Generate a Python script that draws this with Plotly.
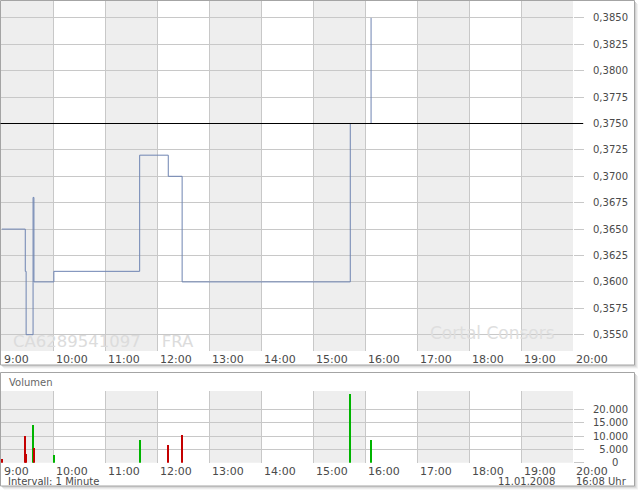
import plotly.graph_objects as go

DATE = "2008-01-11"
W, H = 640, 492

# ---------------- data ----------------
hours = [9, 10, 11, 12, 13, 14, 15, 16, 17, 18, 19, 20]
hour_labels = ["9:00", "10:00", "11:00", "12:00", "13:00", "14:00", "15:00",
               "16:00", "17:00", "18:00", "19:00", "20:00"]
shaded_hours = [9, 11, 13, 15, 17, 19]

price_times = ["09:01", "09:28", "09:29", "09:37", "09:38", "10:01",
               "11:40", "12:13", "12:29", "15:43", "16:07"]
prices = [0.3650, 0.3610, 0.3550, 0.3680, 0.3600, 0.3610,
          0.3720, 0.3700, 0.3600, 0.3750, 0.3850]
prev_close = 0.3750

vol_times = ["09:01", "09:28", "09:29", "09:37", "09:38", "10:01",
             "11:40", "12:13", "12:29", "15:43", "16:07"]
volumes = [1400, 10000, 3300, 14200, 5400, 2900, 8500, 6600, 10400, 25800, 8500]
vol_dir = ["down", "down", "down", "up", "down", "up", "up", "down", "down", "up", "up"]

price_ticks = [0.3550, 0.3575, 0.3600, 0.3625, 0.3650, 0.3675, 0.3700,
               0.3725, 0.3750, 0.3775, 0.3800, 0.3825, 0.3850]
price_tick_labels = ["0,3550", "0,3575", "0,3600", "0,3625", "0,3650", "0,3675",
                     "0,3700", "0,3725", "0,3750", "0,3775", "0,3800", "0,3825", "0,3850"]
vol_ticks = [0, 5000, 10000, 15000, 20000]
vol_tick_labels = ["\u2007\u2007\u20070", "\u20075.000", "10.000", "15.000", "20.000"]

isin_text = "CA6289541097\u00a0\u00a0\u00a0\u00a0FRA"
brand_text = "Cortal Consors"
volume_title = "Volumen"
interval_text = "Intervall: 1 Minute"
date_text = "11.01.2008"
time_text = "16:08 Uhr"

# ---------------- styles ----------------
FONT = "DejaVu Sans, Verdana, sans-serif"
TXT = "#4a4a4a"
GRID = "#c8c8c8"
BAND = "#eeeeee"
LINE = "#6e84b2"
UP = "#00b400"
DOWN = "#c40000"


def dt(hm):
    return f"{DATE} {hm}"


def px_x(p):
    return p / W


def px_y(p):
    return 1 - p / H


# price axis scale: 0.0025 per 26.4 px, chosen so the reference line sits on a pixel row
PX_PER_STEP = 26.4
unit = 0.0025 / PX_PER_STEP
y_top = prev_close + 122.5 * unit
y_bot = y_top - 350 * unit

hour_dt = [dt(f"{h:02d}:00") for h in hours]
x_range = [hour_dt[0], hour_dt[-1]]

fig = go.Figure()

fig.add_trace(go.Scatter(
    x=[dt(t) for t in price_times], y=prices, mode="lines",
    line=dict(color=LINE, width=1, shape="hv"), xaxis="x", yaxis="y",
    hoverinfo="skip", showlegend=False))

fig.add_trace(go.Bar(
    x=[dt(t) for t in vol_times], y=volumes,
    width=[70000] * len(volumes),
    marker=dict(color=[UP if d == "up" else DOWN for d in vol_dir], line=dict(width=0)),
    xaxis="x2", yaxis="y2", hoverinfo="skip", showlegend=False))

main_dom_x = [px_x(1), px_x(573)]
axis_common = dict(
    type="date", range=x_range, tickvals=hour_dt, ticktext=hour_labels,
    ticklabelposition="outside right", ticklabelshift=3, ticks="",
    showgrid=True, gridcolor=GRID,
    gridwidth=1, zeroline=False, showline=False, automargin=False,
    tickfont=dict(family=FONT, size=11, color=TXT), fixedrange=True)

yaxis_common = dict(
    side="right", ticks="outside", ticklen=10, tickcolor=GRID, tickwidth=1,
    ticklabelstandoff=7,
    showgrid=True, gridcolor=GRID, zeroline=False, showline=False, automargin=False,
    tickfont=dict(family=FONT, size=10, color=TXT), fixedrange=True)

fig.update_layout(
    width=W, height=H, autosize=False, margin=dict(l=0, r=0, t=0, b=0, pad=0),
    paper_bgcolor="white", plot_bgcolor="white", bargap=0,
    xaxis=dict(domain=main_dom_x, anchor="y", **axis_common),
    yaxis=dict(domain=[px_y(351), px_y(1)], range=[y_bot, y_top], anchor="x",
               tickvals=price_ticks, ticktext=price_tick_labels, **yaxis_common),
    xaxis2=dict(domain=main_dom_x, anchor="y2", **axis_common),
    yaxis2=dict(domain=[px_y(462.7), px_y(391)], range=[0, 26950], anchor="x2",
                tickvals=vol_ticks, ticktext=vol_tick_labels, **yaxis_common),
)

shapes = []


def frame(x0, y0, x1, y1):
    # soft shadow then white panel with gray border
    for off, col in [(3.5, "#f2f2f2"), (2.5, "#e4e4e4"), (1.5, "#d2d2d2")]:
        shapes.append(dict(type="rect", xref="paper", yref="paper", layer="below",
                           x0=px_x(x0 + off), x1=px_x(x1 + off),
                           y0=px_y(y1 + off), y1=px_y(y0 + off),
                           fillcolor=col, line=dict(width=0)))
    shapes.append(dict(type="rect", xref="paper", yref="paper", layer="below",
                       x0=px_x(x0), x1=px_x(x1), y0=px_y(y1), y1=px_y(y0),
                       fillcolor="white", line=dict(color="#a4a4a4", width=1)))


frame(0.5, 0.5, 634.5, 365)
frame(0.5, 372.5, 634.5, 486)

for h in shaded_hours:
    for xr, yr in [("x", "y domain"), ("x2", "y2 domain")]:
        shapes.append(dict(type="rect", xref=xr, yref=yr, layer="below",
                           x0=dt(f"{h:02d}:00"), x1=dt(f"{h + 1:02d}:00"), y0=0, y1=1,
                           fillcolor=BAND, line=dict(width=0)))

# previous close reference line
shapes.append(dict(type="line", xref="paper", yref="y", layer="above",
                   x0=px_x(0.5), x1=px_x(583), y0=prev_close, y1=prev_close,
                   line=dict(color="black", width=1)))
fig.update_layout(shapes=shapes)

ann = []
ann.append(dict(text=isin_text, xref="paper", yref="paper", x=px_x(11), y=px_y(341),
                xanchor="left", yanchor="middle", showarrow=False,
                font=dict(family=FONT, size=16.5, color="#dcdcdc")))
ann.append(dict(text=brand_text, xref="paper", yref="paper", x=px_x(428), y=px_y(333),
                xanchor="left", yanchor="middle", showarrow=False,
                font=dict(family=FONT, size=17, color="#dedede")))
ann.append(dict(text=volume_title, xref="paper", yref="paper", x=px_x(7), y=px_y(382),
                xanchor="left", yanchor="middle", showarrow=False,
                font=dict(family=FONT, size=10, color="#666666")))
ann.append(dict(text=interval_text, xref="paper", yref="paper", x=px_x(6), y=px_y(481.5),
                xanchor="left", yanchor="middle", showarrow=False,
                font=dict(family=FONT, size=10, color=TXT)))
ann.append(dict(text=date_text, xref="paper", yref="paper", x=px_x(557), y=px_y(481.5),
                xanchor="right", yanchor="middle", showarrow=False,
                font=dict(family=FONT, size=10, color=TXT)))
ann.append(dict(text=time_text, xref="paper", yref="paper", x=px_x(629), y=px_y(481.5),
                xanchor="right", yanchor="middle", showarrow=False,
                font=dict(family=FONT, size=10, color=TXT)))
fig.update_layout(annotations=ann)

fig.write_html(
    "out.html",
    config={"responsive": False, "displayModeBar": False},
    post_script="document.body.style.margin='0';document.body.style.overflow='hidden';",
)
